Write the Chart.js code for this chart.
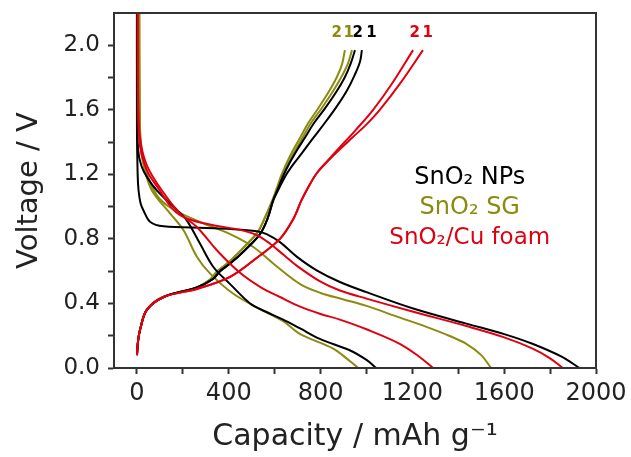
<!DOCTYPE html>
<html>
<head>
<meta charset="utf-8">
<script src="https://cdn.jsdelivr.net/npm/chart.js"></script>
<style>
  body { margin: 0; background: #fff; }
  #chart { display: block; }
</style>
</head>
<body>
<canvas id="chart" width="631" height="457"></canvas>
<script>
// [capacity mAh/g, voltage V]
const npDischarge1 = [[0,2.3],[0,1.5],[3,1.2],[7,1.1],[16,1.02],[29,0.975],[58,0.905],[116,0.878],[300,0.868],[406,0.862],[522,0.848],[565,0.83],[623,0.78],[696,0.69],[783,0.605],[884,0.533],[1000,0.47],[1200,0.37],[1435,0.275],[1600,0.21],[1723,0.15],[1850,0.07],[1928,0]];
const npDischarge2 = [[0,2.3],[1,1.6],[5,1.35],[20,1.25],[45,1.18],[87,1.10],[174,0.98],[217,0.915],[275,0.77],[333,0.626],[406,0.52],[493,0.40],[560,0.35],[637,0.30],[711,0.245],[797,0.18],[927,0.11],[1000,0.05],[1043,0]];
const sgDischarge1 = [[10,2.3],[12,1.6],[18,1.38],[40,1.22],[87,1.07],[150,0.99],[275,0.905],[406,0.83],[507,0.75],[600,0.64],[711,0.52],[800,0.465],[900,0.425],[1000,0.385],[1130,0.32],[1261,0.255],[1360,0.2],[1435,0.15],[1500,0.08],[1543,0]];
const sgDischarge2 = [[10,2.3],[12,1.6],[16,1.38],[30,1.25],[65,1.10],[145,0.957],[203,0.854],[261,0.69],[319,0.585],[420,0.46],[530,0.37],[637,0.29],[711,0.21],[855,0.12],[930,0.04],[964,0]];
const cuDischarge1 = [[3,2.3],[5,1.6],[14,1.37],[45,1.22],[90,1.12],[159,0.98],[220,0.925],[333,0.885],[449,0.856],[520,0.825],[580,0.77],[640,0.70],[700,0.63],[800,0.535],[884,0.48],[1000,0.43],[1200,0.35],[1435,0.26],[1600,0.19],[1724,0.12],[1800,0.06],[1855,0]];
const cuDischarge2 = [[3,2.3],[6,1.6],[16,1.40],[45,1.25],[109,1.10],[188,0.957],[261,0.874],[348,0.73],[449,0.59],[540,0.50],[623,0.44],[711,0.38],[800,0.335],[884,0.30],[1000,0.24],[1145,0.15],[1230,0.07],[1290,0]];

const npCharge1 = [[0,0.08],[5,0.17],[14,0.24],[43,0.36],[116,0.44],[261,0.50],[330,0.55],[362,0.60],[406,0.647],[470,0.73],[536,0.83],[570,0.93],[594,1.04],[618,1.11],[647,1.19],[680,1.26],[718,1.33],[765,1.42],[819,1.52],[870,1.62],[915,1.72],[950,1.82],[972,1.90],[980,1.97]];
const npCharge2 = [[0,0.08],[5,0.17],[14,0.24],[43,0.36],[116,0.44],[261,0.50],[330,0.55],[362,0.60],[406,0.647],[470,0.73],[536,0.83],[570,0.93],[594,1.04],[614,1.11],[637,1.19],[665,1.27],[697,1.35],[733,1.43],[770,1.515],[820,1.61],[868,1.71],[905,1.80],[932,1.89],[950,1.97]];
const sgCharge1 = [[0,0.08],[5,0.17],[14,0.24],[43,0.36],[116,0.44],[261,0.50],[320,0.55],[350,0.60],[395,0.65],[460,0.74],[525,0.84],[560,0.94],[592,1.04],[612,1.11],[634,1.19],[660,1.27],[690,1.35],[723,1.43],[757,1.515],[805,1.61],[852,1.71],[893,1.81],[920,1.89],[937,1.97]];
const sgCharge2 = [[0,0.08],[5,0.17],[14,0.24],[43,0.36],[116,0.44],[261,0.50],[320,0.55],[350,0.60],[395,0.65],[460,0.74],[525,0.84],[560,0.94],[590,1.04],[608,1.11],[628,1.19],[652,1.27],[680,1.35],[712,1.43],[745,1.515],[790,1.61],[835,1.71],[870,1.80],[893,1.88],[906,1.97]];
const cuCharge1 = [[0,0.08],[5,0.17],[14,0.24],[43,0.36],[116,0.44],[261,0.49],[406,0.565],[520,0.68],[623,0.80],[680,0.92],[717,1.04],[750,1.13],[785,1.21],[830,1.28],[880,1.35],[940,1.43],[1000,1.51],[1058,1.60],[1150,1.77],[1246,1.97]];
const cuCharge2 = [[0,0.08],[5,0.17],[14,0.24],[43,0.36],[116,0.44],[261,0.49],[406,0.565],[520,0.68],[623,0.80],[680,0.92],[717,1.04],[750,1.13],[785,1.21],[828,1.28],[872,1.35],[950,1.47],[1029,1.60],[1110,1.76],[1203,1.97]];

const xMajorTicks = [0, 400, 800, 1200, 1600, 2000];
const xMinorTicks = [200, 600, 1000, 1400, 1800];
const yMajorTicks = [0, 0.4, 0.8, 1.2, 1.6, 2.0];
const yMinorTicks = [0.2, 0.6, 1.0, 1.4, 1.8];

const legendNames = ['SnO\u2082 NPs', 'SnO\u2082 SG', 'SnO\u2082/Cu foam'];
// cycle numbers written above the charge curve ends
const cycleLabels = ['2', '1', '2', '1', '2', '1'];
const cycleLabelCaps = [870, 923, 962, 1022, 1210, 1267];

const BLACK = '#000000';
const OLIVE = '#8b8b10';
const RED = '#e00010';
const FONT = 'DejaVu Sans';

const toXY = arr => arr.map(p => ({ x: p[0], y: p[1] }));
const curve = (pts, color) => ({
  data: toXY(pts),
  borderColor: color,
  borderWidth: 2,
  pointRadius: 0,
  tension: 0.35,
  fill: false
});

// dataset 0 is drawn on top
const datasets = [
  curve(cuCharge1, RED), curve(cuCharge2, RED),
  curve(cuDischarge1, RED), curve(cuDischarge2, RED),
  curve(npCharge1, BLACK), curve(npCharge2, BLACK),
  curve(npDischarge1, BLACK), curve(npDischarge2, BLACK),
  curve(sgCharge1, OLIVE), curve(sgCharge2, OLIVE),
  curve(sgDischarge1, OLIVE), curve(sgDischarge2, OLIVE)
];

const frameAndText = {
  id: 'frameAndText',
  afterDatasetsDraw(chart) {
    const { ctx, chartArea: a, scales: { x, y } } = chart;
    ctx.save();
    ctx.strokeStyle = '#333';
    ctx.lineWidth = 2;
    ctx.strokeRect(a.left, a.top, a.right - a.left, a.bottom - a.top);

    // legend text
    const lx = x.getPixelForValue(1450);
    const ly = y.getPixelForValue(1.18);
    const legendColors = [BLACK, OLIVE, RED];
    ctx.textAlign = 'center';
    ctx.textBaseline = 'middle';
    legendNames.forEach((t, i) => {
      ctx.font = (i === 2 ? 23 : 24) + 'px "' + FONT + '"';
      ctx.fillStyle = legendColors[i];
      ctx.fillText(t, lx, ly + i * 30);
    });

    // cycle numbers
    const cycleColors = [OLIVE, OLIVE, BLACK, BLACK, RED, RED];
    ctx.font = 'bold 15px "' + FONT + '"';
    const cy = y.getPixelForValue(2.075);
    cycleLabels.forEach((t, i) => {
      ctx.fillStyle = cycleColors[i];
      ctx.fillText(t, x.getPixelForValue(cycleLabelCaps[i]), cy);
    });
    ctx.restore();
  }
};

new Chart(document.getElementById('chart'), {
  type: 'line',
  data: { datasets },
  plugins: [frameAndText],
  options: {
    responsive: false,
    animation: false,
    devicePixelRatio: 1,
    layout: { padding: { top: 13, right: 35, bottom: 0, left: 0 } },
    plugins: { legend: { display: false }, tooltip: { enabled: false } },
    scales: {
      x: {
        type: 'linear',
        min: -100,
        max: 2000,
        afterBuildTicks: s => { s.ticks = xMajorTicks.concat(xMinorTicks).sort((a, b) => a - b).map(v => ({ value: v })); },
        afterFit: s => { s.height = 89; s.paddingLeft = 0; s.paddingRight = 0; },
        ticks: {
          autoSkip: false,
          maxRotation: 0,
          padding: 5,
          color: '#222',
          font: { family: FONT, size: 24 },
          callback: v => xMajorTicks.includes(v) ? String(v) : ''
        },
        grid: { drawOnChartArea: false, tickLength: 6, tickColor: '#333', tickWidth: 2 },
        border: { color: '#333', width: 2 },
        title: {
          display: true,
          text: 'Capacity / mAh g\u207B\u00B9',
          color: '#222',
          font: { family: FONT, size: 30 },
          padding: { top: 0, bottom: 2 }
        }
      },
      y: {
        type: 'linear',
        min: 0,
        max: 2.2,
        afterBuildTicks: s => { s.ticks = yMajorTicks.concat(yMinorTicks).sort((a, b) => a - b).map(v => ({ value: v })); },
        afterFit: s => { s.width = 114; s.paddingTop = 0; s.paddingBottom = 0; },
        ticks: {
          autoSkip: false,
          padding: 8,
          color: '#222',
          font: { family: FONT, size: 23 },
          callback: v => yMajorTicks.includes(v) ? v.toFixed(1) : ''
        },
        grid: { drawOnChartArea: false, tickLength: 6, tickColor: '#333', tickWidth: 2 },
        border: { color: '#333', width: 2 },
        title: {
          display: true,
          text: 'Voltage / V',
          color: '#222',
          font: { family: FONT, size: 29 },
          padding: { top: 12, bottom: 0 }
        }
      }
    }
  }
});
</script>
</body>
</html>
